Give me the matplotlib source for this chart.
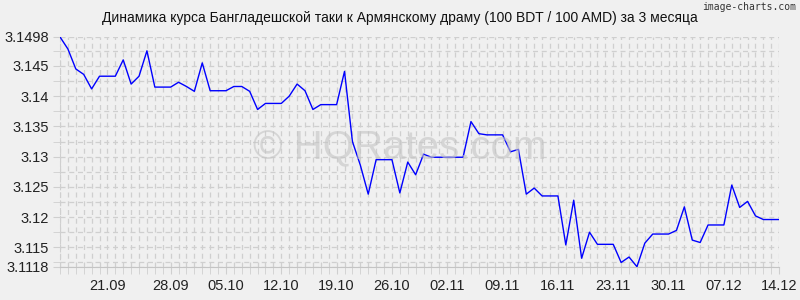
import matplotlib
matplotlib.use('Agg')
import matplotlib.pyplot as plt
import numpy as np

# курс BDT/AMD, по дням с 14.09 по 14.12
rates = [3.1498, 3.1478, 3.1445, 3.1436, 3.1412, 3.1433, 3.1433, 3.1433, 3.1460, 3.1420,
         3.1433, 3.1475, 3.1415, 3.1415, 3.1415, 3.1423, 3.1416, 3.1408, 3.1455, 3.1409,
         3.1409, 3.1409, 3.1416, 3.1416, 3.1408, 3.1378, 3.1388, 3.1388, 3.1388, 3.1400,
         3.1420, 3.1409, 3.1378, 3.1386, 3.1386, 3.1386, 3.1441, 3.1325, 3.1286, 3.1238,
         3.1295, 3.1295, 3.1295, 3.1240, 3.1291, 3.1270, 3.1304, 3.1299, 3.1299, 3.1299,
         3.1299, 3.1299, 3.1358, 3.1338, 3.1336, 3.1336, 3.1336, 3.1308, 3.1312, 3.1238,
         3.1248, 3.1235, 3.1235, 3.1235, 3.1154, 3.1228, 3.1132, 3.1175, 3.1155, 3.1155,
         3.1155, 3.1125, 3.1134, 3.1118, 3.1157, 3.1172, 3.1172, 3.1172, 3.1178, 3.1217,
         3.1162, 3.1158, 3.1187, 3.1187, 3.1187, 3.1253, 3.1216, 3.1226, 3.1202, 3.1196,
         3.1196, 3.1196]

date_labels = ['21.09', '28.09', '05.10', '12.10', '19.10', '26.10', '02.11',
               '09.11', '16.11', '23.11', '30.11', '07.12', '14.12']
date_idx = [6, 14, 21, 28, 35, 42, 49, 56, 63, 70, 77, 84, 91]

y_min, y_max = 3.1118, 3.1498
y_ticks = [3.1118, 3.115, 3.12, 3.125, 3.13, 3.135, 3.14, 3.145, 3.1498]
y_labels = ['3.1118', '3.115', '3.12', '3.125', '3.13', '3.135', '3.14', '3.145', '3.1498']

bg = '#f0f0f0'
grid_c = '#cfcfcf'

fig = plt.figure(figsize=(8, 3), dpi=100, facecolor=bg)
ax = fig.add_axes([0.075, 0.111, 0.899, 0.766])
ax.set_facecolor(bg)

x = np.arange(len(rates))
ax.plot(x, rates, color='#0000ff', lw=1, zorder=3)

ax.set_xlim(0, len(rates) - 1)
ax.set_ylim(y_min, y_max)

ax.set_yticks(y_ticks)
ax.set_yticklabels(y_labels)
ax.set_yticks(np.arange(3.1125, 3.1476, 0.0025), minor=True)
ax.set_xticks(date_idx)
ax.set_xticklabels(date_labels)
ax.set_xticks(x, minor=True)

ax.grid(True, which='both', axis='both', color=grid_c, ls=(0, (4, 3)), lw=0.9)
ax.tick_params(axis='both', which='both', length=5, color=grid_c,
               labelsize=10.5, labelcolor='#222222')
ax.tick_params(axis='x', which='both', pad=4)
ax.tick_params(axis='y', which='both', pad=3)

for s in ['top', 'right']:
    ax.spines[s].set_visible(False)
ax.spines['left'].set_color(grid_c)
ax.spines['left'].set_linestyle((0, (4, 3)))
ax.spines['bottom'].set_color('#c4c4c4')

for lab in ax.get_xticklabels() + ax.get_yticklabels():
    lab.set_family('Liberation Sans')

fig.text(0.5, 0.94, 'Динамика курса Бангладешской таки к Армянскому драму (100 BDT / 100 AMD) за 3 месяца',
         ha='center', va='center', fontsize=10, family='Liberation Sans', color='#111111')
fig.text(0.995, 0.975, 'image-charts.com', ha='right', va='center', fontsize=7,
         family='DejaVu Sans Mono', color='#333333')
# водяной знак
fig.text(0.5, 0.505, '© HQRates.com', ha='center', va='center',
         fontsize=29, family='Liberation Sans', color='#c4c4c4', alpha=0.6, zorder=0)

fig.savefig('out.png', dpi=100, facecolor=bg)
